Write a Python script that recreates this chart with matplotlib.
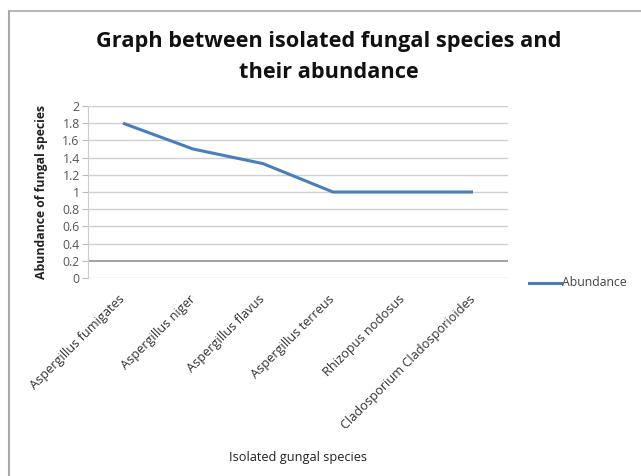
import matplotlib
matplotlib.use("Agg")
import matplotlib.pyplot as plt
from matplotlib.lines import Line2D

categories = ["Aspergillus fumigates", "Aspergillus niger", "Aspergillus flavus",
              "Aspergillus terreus", "Rhizopus nodosus", "Cladosporium Cladosporioides"]
abundance = [1.8, 1.5, 1.33, 1.0, 1.0, 1.0]
yticks = [0, 0.2, 0.4, 0.6, 0.8, 1, 1.2, 1.4, 1.6, 1.8, 2]
ytick_labels = ["0", "0.2", "0.4", "0.6", "0.8", "1", "1.2", "1.4", "1.6", "1.8", "2"]

plt.rcParams['font.family'] = ['Open Sans', 'DejaVu Sans']

W, H = 641, 476
fig = plt.figure(figsize=(W/100, H/100), dpi=100)

# plot area: x 88..508, y 106..278 (pixels from top)
ax = fig.add_axes([88/W, 1-278/H, (508-88)/W, (278-106)/H])
x = list(range(len(categories)))
ax.plot(x, abundance, color="#4a7ebb", lw=2.2, solid_capstyle="butt", label="Abundance")
ax.set_xlim(-0.5, len(categories)-0.5)
ax.set_ylim(0, 2)
ax.set_yticks(yticks)
ax.set_yticklabels(ytick_labels, fontsize=8.8, color="#555555")
for yv in yticks:
    ax.axhline(yv, color="#a0a0a0" if yv == 0.2 else "#cfcfcf", lw=1.4 if yv == 0.2 else 1.0, zorder=0)
ax.set_xticks(x)
ax.set_xticklabels(categories, rotation=45, ha="right", va="center", rotation_mode="anchor",
                   fontsize=9.2, color="#333333")
ax.tick_params(axis="x", length=0, pad=14)
ax.tick_params(axis="y", length=4, color="#bbbbbb", pad=2)
for s in ["top", "right", "bottom"]:
    ax.spines[s].set_visible(False)
ax.spines["left"].set_color("#cccccc")

ax.set_ylabel("Abundance of fungal species", fontsize=8.8, fontweight="bold", color="#222222", labelpad=10)
fig.text(298/W, 1-457/H, "Isolated gungal species", fontsize=9.2, color="#222222", ha="center", va="center")

fig.text(329/W, 1-42/H, "Graph between isolated fungal species and", fontsize=15.7,
         fontweight="bold", ha="center", va="center", color="#111111")
fig.text(329/W, 1-72/H, "their abundance", fontsize=15.7,
         fontweight="bold", ha="center", va="center", color="#111111")

# legend
fig.add_artist(Line2D([529/W, 561/W], [1-283/H, 1-283/H], color="#4a7ebb", lw=2.2))
fig.text(562/W, 1-283/H, "Abundance", fontsize=8.8, color="#444444", va="center", ha="left")

# chart border
fig.add_artist(Line2D([9/W, 9/W], [0, 1-11/H], color="#aaaaaa", lw=1.5))
fig.add_artist(Line2D([9/W, 1], [1-11/H, 1-11/H], color="#aaaaaa", lw=1.2))

fig.savefig("out.png", dpi=100)
